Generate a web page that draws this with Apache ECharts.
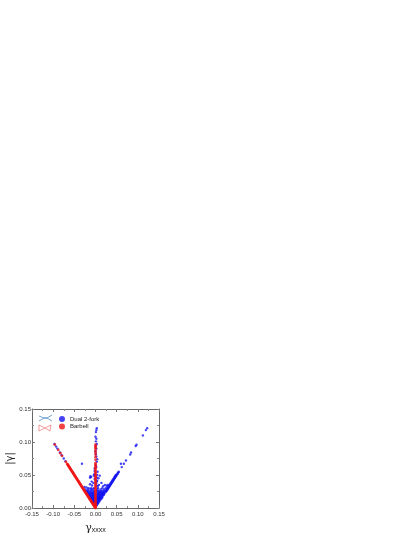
<!DOCTYPE html>
<html>
<head>
<meta charset="utf-8">
<script src="https://cdn.jsdelivr.net/npm/echarts@6/dist/echarts.min.js"></script>
<style>
html,body{margin:0;padding:0;background:#fff;}
#main{width:415px;height:537px;}
</style>
</head>
<body>
<div id="main"></div>
<script>
var xTicks = [-0.15, -0.10, -0.05, 0.00, 0.05, 0.10, 0.15];
var yTicks = [0.00, 0.05, 0.10, 0.15];
var seriesNames = ['Dual 2-fork', 'Barbell'];

// [gamma_xxxx, |gamma|]
var dualRightEdge = [
 [0.122,0.121],[0.119,0.118],[0.112,0.110],[0.097,0.096],[0.095,0.094],[0.084,0.084],[0.082,0.081],[0.072,0.072],[0.067,0.067],[0.062,0.062],
 [0.060,0.067],[0.055,0.055],[0.054,0.054],[0.053,0.053],[0.052,0.052],[0.051,0.051],[0.050,0.050],[0.049,0.049],[0.048,0.048],[0.047,0.047],
 [0.046,0.046],[0.045,0.045],[0.044,0.044],[0.043,0.043],[0.042,0.042],[0.041,0.041],[0.040,0.040],[0.039,0.039],[0.038,0.038],[0.037,0.037],
 [0.036,0.036],[0.035,0.035],[0.034,0.034],[0.033,0.033],[0.032,0.032],[0.031,0.031],[0.030,0.030],[0.029,0.029],[0.028,0.028],[0.027,0.027],
 [0.026,0.026],[0.025,0.025],[0.048,0.050],[0.046,0.048],[0.044,0.046],[0.042,0.044],[0.040,0.042],[0.038,0.040],[0.036,0.038],[0.034,0.036]
];
var dualRightFill = [
 [0.001,0.004],[0.003,0.004],
 [0.001,0.006],[0.003,0.006],[0.005,0.006],
 [0.001,0.008],[0.003,0.008],[0.005,0.008],[0.007,0.008],
 [0.001,0.010],[0.003,0.010],[0.005,0.010],[0.007,0.010],[0.009,0.010],
 [0.001,0.012],[0.003,0.012],[0.005,0.012],[0.007,0.012],[0.009,0.012],[0.011,0.012],
 [0.002,0.014],[0.004,0.014],[0.006,0.014],[0.008,0.014],[0.010,0.014],[0.012,0.014],[0.014,0.014],
 [0.002,0.016],[0.004,0.016],[0.006,0.016],[0.008,0.016],[0.010,0.016],[0.012,0.016],[0.014,0.016],[0.016,0.016],
 [0.003,0.018],[0.005,0.018],[0.007,0.018],[0.009,0.018],[0.011,0.018],[0.013,0.018],[0.015,0.018],[0.017,0.018],
 [0.003,0.020],[0.006,0.020],[0.008,0.020],[0.010,0.020],[0.012,0.020],[0.014,0.020],[0.016,0.020],[0.018,0.020],[0.020,0.020],
 [0.004,0.022],[0.007,0.022],[0.010,0.022],[0.013,0.022],[0.015,0.022],[0.017,0.022],[0.019,0.022],[0.021,0.022],
 [0.005,0.024],[0.009,0.024],[0.012,0.024],[0.015,0.024],[0.018,0.024],[0.020,0.024],[0.023,0.024],
 [0.003,0.026],[0.006,0.026],[0.010,0.026],[0.014,0.026],[0.018,0.026],[0.022,0.026],[0.024,0.026],
 [0.004,0.028],[0.012,0.028],[0.020,0.028],[0.026,0.028],
 [0.006,0.030],[0.016,0.030],[0.024,0.030],[0.028,0.030],
 [0.005,0.033],[0.018,0.033],[0.027,0.033],[0.031,0.033],
 [0.008,0.035],[0.022,0.035],[0.028,0.035],[0.033,0.035],
 [0.014,0.038],[0.004,0.041],[0.007,0.045],[0.010,0.049]
];
var dualLeftFill = [
 [-0.001,0.004],[-0.003,0.004],
 [-0.002,0.006],[-0.004,0.006],
 [-0.001,0.008],[-0.003,0.008],[-0.005,0.008],[-0.007,0.008],
 [-0.002,0.010],[-0.004,0.010],[-0.006,0.010],[-0.008,0.010],
 [-0.001,0.012],[-0.003,0.012],[-0.005,0.012],[-0.007,0.012],[-0.009,0.012],
 [-0.002,0.014],[-0.004,0.014],[-0.006,0.014],[-0.008,0.014],[-0.010,0.014],[-0.012,0.014],
 [-0.001,0.016],[-0.003,0.016],[-0.005,0.016],[-0.009,0.016],[-0.011,0.016],[-0.013,0.016],
 [-0.002,0.018],[-0.004,0.018],[-0.007,0.018],[-0.010,0.018],[-0.012,0.018],[-0.015,0.018],
 [-0.003,0.020],[-0.006,0.020],[-0.009,0.020],[-0.013,0.020],[-0.016,0.020],
 [-0.002,0.022],[-0.005,0.022],[-0.008,0.022],[-0.011,0.022],[-0.015,0.022],[-0.018,0.022],
 [-0.004,0.024],[-0.007,0.024],[-0.012,0.024],[-0.017,0.024],[-0.020,0.024],
 [-0.003,0.026],[-0.009,0.026],[-0.014,0.026],[-0.019,0.026],[-0.022,0.026],
 [-0.006,0.028],[-0.011,0.028],[-0.018,0.028],[-0.024,0.028],
 [-0.004,0.030],[-0.010,0.030],[-0.016,0.030],[-0.021,0.031],[-0.026,0.032],
 [-0.008,0.034],[-0.013,0.036],[-0.005,0.038],[-0.009,0.040],[-0.013,0.046],[-0.010,0.047],[-0.012,0.048],[-0.004,0.050],[-0.032,0.067]
];
var dualLeftEdge = [
 [-0.097,0.097],[-0.093,0.093],[-0.090,0.090],[-0.084,0.084],[-0.080,0.080],[-0.075,0.075],[-0.071,0.071]
];
var dualStem = [
 [0.003,0.121],[0.002,0.118],[0.001,0.115],[0.000,0.108],[0.002,0.105],[0.001,0.101],[0.003,0.097],[0.001,0.094],[0.002,0.090],[0.000,0.086],
 [0.001,0.082],[0.002,0.078],[0.004,0.074],[0.003,0.070],[0.001,0.065],[0.002,0.062],[0.005,0.055],[0.004,0.050],[0.003,0.046],[0.002,0.042],
 [-0.002,0.060],[-0.002,0.056],[-0.002,0.052],[-0.002,0.048],[-0.002,0.044],[0.002,0.038],[0.002,0.034]
];
var barbellDiag = [
 [-0.096,0.096],[-0.088,0.088],[-0.083,0.083],[-0.079,0.079],[-0.070,0.070],[-0.067,0.067],[-0.066,0.066],[-0.065,0.065],[-0.064,0.064],[-0.063,0.063],
 [-0.062,0.062],[-0.061,0.061],[-0.060,0.060],[-0.059,0.059],[-0.058,0.058],[-0.057,0.057],[-0.056,0.056],[-0.055,0.055],[-0.054,0.054],[-0.053,0.053],
 [-0.052,0.052],[-0.051,0.051],[-0.050,0.050],[-0.049,0.049],[-0.048,0.048],[-0.047,0.047],[-0.046,0.046],[-0.045,0.045],[-0.044,0.044],[-0.043,0.043],
 [-0.042,0.042],[-0.041,0.041],[-0.040,0.040],[-0.039,0.039],[-0.038,0.038],[-0.037,0.037],[-0.036,0.036],[-0.035,0.035],[-0.034,0.034],[-0.033,0.033],
 [-0.032,0.032],[-0.031,0.031],[-0.030,0.030],[-0.029,0.029],[-0.028,0.028],[-0.027,0.027],[-0.026,0.026],[-0.025,0.025],[-0.024,0.024],[-0.023,0.023],
 [-0.022,0.022],[-0.021,0.021],[-0.020,0.020],[-0.019,0.019],[-0.018,0.018],[-0.017,0.017],[-0.016,0.016],[-0.015,0.015],[-0.014,0.014],[-0.013,0.013],
 [-0.012,0.012],[-0.011,0.011],[-0.010,0.010],[-0.009,0.009],[-0.008,0.008],[-0.007,0.007],[-0.006,0.006],[-0.005,0.005],[-0.004,0.004],[-0.003,0.003],
 [-0.002,0.002],[-0.001,0.001]
];
var barbellStem = [
 [0,0.000],[0,0.001],[0,0.002],[0,0.003],[0,0.004],[0,0.005],[0,0.006],[0,0.008],[0,0.010],[0,0.012],
 [0,0.014],[0,0.016],[0,0.018],[0,0.020],[0,0.022],[0,0.024],[0,0.026],[0,0.028],[0,0.030],[0,0.032],
 [0,0.034],[0,0.036],[0,0.038],[0,0.040],[0,0.042],[0,0.044],[0,0.046],[0,0.048],[0,0.050],[0,0.052],
 [0,0.054],[0,0.056],[0,0.058],[0,0.060],[0,0.062],[0,0.064],[0,0.066],[0,0.068],[0,0.073],[0,0.077],
 [0,0.081],[0,0.084],[0,0.087],[0,0.090],[0,0.092],[0,0.094],[0,0.096]
];

var axisBase = {
	type: 'value',
	axisLine: {onZero: false, lineStyle: {color: '#666', width: 1}},
	axisTick: {inside: true, length: 3, lineStyle: {color: '#777', width: 1}},
	minorTick: {show: true, splitNumber: 2, length: 2, lineStyle: {color: '#888'}},
	splitLine: {show: false}
};

option = {
	animation: false,
	backgroundColor: '#fff',
	textStyle: {fontFamily: '"Liberation Sans", Arial, sans-serif'},
	grid: {left: 32, top: 409, width: 127, height: 99, containLabel: false},
	legend: {
		left: 54, top: 411, orient: 'vertical', itemWidth: 6, itemHeight: 6, itemGap: 1.5,
		textStyle: {fontSize: 6, color: '#222'},
		data: [
			{name: seriesNames[0], icon: 'circle', itemStyle: {color: '#1414f0'}},
			{name: seriesNames[1], icon: 'circle', itemStyle: {color: '#f01414'}}
		]
	},
	xAxis: [
		Object.assign({}, axisBase, {
			min: xTicks[0], max: xTicks[6], interval: 0.05, position: 'bottom',
			axisLabel: {fontSize: 6, color: '#333', margin: 3, showMinLabel: true, showMaxLabel: true,
				formatter: function (v) { return v.toFixed(2); }},
			name: '{g|γ}{s|xxxx}', nameLocation: 'middle', nameGap: 14,
			nameTextStyle: {rich: {
				g: {fontSize: 11, color: '#222', fontFamily: '"DejaVu Serif", serif'},
				s: {fontSize: 7, color: '#222', verticalAlign: 'bottom', padding: [5, 0, 0, 0]}
			}}
		}),
		Object.assign({}, axisBase, {
			min: xTicks[0], max: xTicks[6], interval: 0.05, position: 'top', axisLabel: {show: false}
		})
	],
	yAxis: [
		Object.assign({}, axisBase, {
			min: yTicks[0], max: yTicks[3], interval: 0.05, position: 'left',
			axisLabel: {fontSize: 6, color: '#333', margin: 1,
				formatter: function (v) { return v.toFixed(2); }},
			name: '|γ|', nameLocation: 'middle', nameGap: 17, nameRotate: 90,
			nameTextStyle: {fontSize: 10, color: '#222', fontFamily: '"DejaVu Sans", sans-serif'}
		}),
		Object.assign({}, axisBase, {
			min: yTicks[0], max: yTicks[3], interval: 0.05, position: 'right', axisLabel: {show: false}
		})
	],
	series: [
		{name: seriesNames[0], type: 'scatter', symbolSize: 2.4, itemStyle: {color: '#1414f0'},
			data: dualRightEdge.concat(dualRightFill, dualLeftFill, dualLeftEdge, dualStem)},
		{name: seriesNames[1], type: 'scatter', symbolSize: 2.8, itemStyle: {color: '#f01414'},
			data: barbellDiag.concat(barbellStem)}
	],
	// small molecule sketches beside the legend
	graphic: [
		{type: 'polyline', shape: {points: [[39, 416], [44, 418], [47, 418], [52, 415]]}, style: {stroke: '#3a7fc0', lineWidth: 0.7, fill: null}},
		{type: 'polyline', shape: {points: [[39, 421], [44, 418], [47, 418], [52, 421]]}, style: {stroke: '#3a7fc0', lineWidth: 0.7, fill: null}},
		{type: 'polygon', shape: {points: [[39, 425], [45, 428], [51, 425], [50, 431], [45, 428], [39, 431]]}, style: {stroke: '#f07070', lineWidth: 0.7, fill: 'none'}}
	]
};
var myChart = echarts.init(document.getElementById('main'), null, {renderer: 'canvas'});
myChart.setOption(option, true);
</script>
</body>
</html>
